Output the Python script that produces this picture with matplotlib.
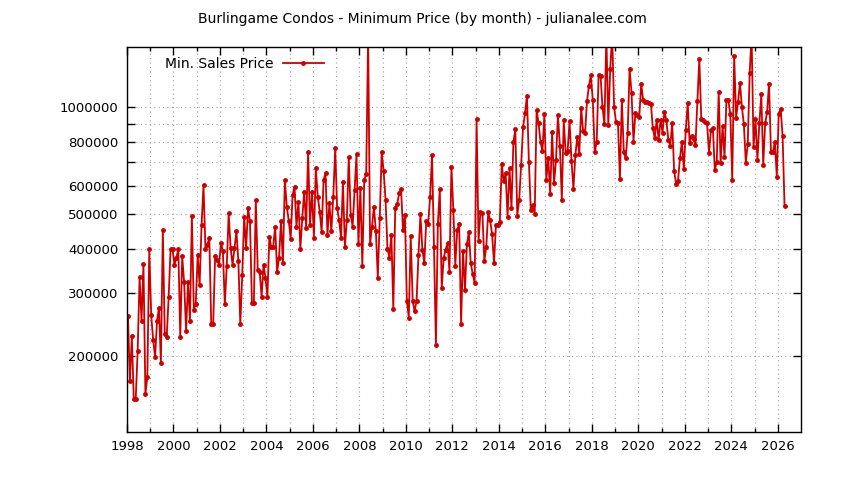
import numpy as np
import matplotlib
matplotlib.use("Agg")
import matplotlib.pyplot as plt
from matplotlib.ticker import FixedLocator, FixedFormatter, NullFormatter

# Monthly minimum sales price (USD), Jan 1998 .. Apr 2026
start_year = 1998
prices = [
    258000, 170000, 227000, 151000, 151000, 206000, 334000, 251000, 363000, 156000,
    174000, 400000, 260000, 222000, 198000, 250000, 273000, 191000, 451000, 231000,
    226000, 292000, 400000, 400000, 361000, 377000, 400000, 226000, 381000, 322000,
    235000, 322000, 251000, 495000, 269000, 280000, 385000, 316000, 467000, 605000,
    400000, 411000, 429000, 245000, 245000, 381000, 373000, 361000, 415000, 395000,
    279000, 357000, 504000, 402000, 361000, 402000, 448000, 369000, 245000, 338000,
    493000, 402000, 521000, 478000, 281000, 281000, 549000, 349000, 345000, 293000,
    361000, 331000, 293000, 433000, 404000, 406000, 462000, 345000, 377000, 478000,
    364000, 625000, 526000, 480000, 427000, 567000, 599000, 462000, 543000, 400000,
    488000, 580000, 459000, 750000, 467000, 580000, 430000, 674000, 561000, 509000,
    446000, 625000, 653000, 438000, 538000, 448000, 561000, 767000, 521000, 483000,
    430000, 616000, 406000, 481000, 727000, 499000, 462000, 586000, 738000, 412000,
    592000, 357000, 625000, 648000, 1600000, 412000, 462000, 526000, 448000, 331000,
    488000, 750000, 663000, 549000, 400000, 378000, 438000, 271000, 520000, 534000,
    573000, 590000, 452000, 499000, 285000, 256000, 434000, 285000, 267000, 285000,
    385000, 501000, 398000, 365000, 478000, 470000, 560000, 735000, 405000, 215000,
    469000, 590000, 310000, 377000, 398000, 415000, 345000, 681000, 515000, 359000,
    452000, 469000, 246000, 395000, 307000, 412000, 446000, 364000, 340000, 320000,
    927000, 420000, 509000, 505000, 369000, 406000, 507000, 481000, 440000, 365000,
    467000, 467000, 477000, 691000, 620000, 653000, 493000, 674000, 521000, 797000,
    869000, 496000, 549000, 689000, 882000, 962000, 1078000, 704000, 513000, 532000,
    501000, 983000, 902000, 801000, 754000, 956000, 625000, 722000, 570000, 851000,
    612000, 711000, 951000, 780000, 549000, 921000, 743000, 754000, 915000, 707000,
    590000, 735000, 827000, 738000, 998000, 858000, 845000, 1041000, 1150000, 1232000,
    1048000, 748000, 797000, 1232000, 1228000, 1004000, 896000, 1600000, 892000, 1287000,
    1600000, 1000000, 911000, 905000, 628000, 1053000, 750000, 719000, 849000, 1287000,
    1100000, 801000, 966000, 951000, 941000, 1168000, 1048000, 1037000, 1035000, 1030000,
    1026000, 873000, 818000, 925000, 810000, 925000, 849000, 972000, 921000, 810000,
    780000, 905000, 664000, 609000, 622000, 719000, 801000, 670000, 864000, 1030000,
    792000, 831000, 813000, 784000, 1044000, 1373000, 931000, 921000, 911000, 902000,
    743000, 864000, 873000, 667000, 704000, 1106000, 697000, 886000, 727000, 1048000,
    1048000, 958000, 625000, 1400000, 937000, 1037000, 1172000, 1000000, 898000, 699000,
    789000, 1250000, 1600000, 772000, 927000, 711000, 902000, 1090000, 689000, 902000,
    972000, 1168000, 748000, 750000, 801000, 639000, 958000, 993000, 831000, 528000,
]

x_major = list(range(1998, 2027, 2))
x_minor = list(range(1999, 2027, 2))
y_ticks = [200000, 300000, 400000, 500000, 600000, 700000, 800000, 900000, 1000000]
y_labels = ["200000", "300000", "400000", "500000", "600000", "", "800000", "", "1000000"]

title = "Burlingame Condos - Minimum Price (by month) - julianalee.com"
series_label = "Min. Sales Price"

month_idx = np.arange(len(prices))
dates = start_year + (month_idx + 0.5) / 12.0

plt.rcParams['font.family'] = ['DejaVu Sans']
fig = plt.figure(figsize=(8.44, 4.80), dpi=100)
ax = fig.add_axes([127/844, 1 - 432/480, (801 - 127)/844, (432 - 47)/480])

ax.set_yscale('log')
ax.set_xlim(1998, 2027)
ax.set_ylim(122000, 1480000)

red = '#cc0000'
ax.plot(dates, prices, color=red, lw=1.3, marker='o', ms=2.5,
        markerfacecolor=red, markeredgecolor=red, label=series_label, clip_on=True)

ax.xaxis.set_major_locator(FixedLocator(x_major))
ax.xaxis.set_minor_locator(FixedLocator(x_minor))
ax.set_xticklabels([str(v) for v in x_major])
ax.yaxis.set_major_locator(FixedLocator(y_ticks))
ax.yaxis.set_major_formatter(FixedFormatter(y_labels))
ax.yaxis.set_minor_locator(FixedLocator([]))
ax.yaxis.set_minor_formatter(NullFormatter())

ax.tick_params(axis='both', which='major', direction='in', length=6, width=1,
               top=True, right=True, labelsize=9.5, pad=6, colors='black')
ax.tick_params(axis='x', which='minor', direction='in', length=3, width=1,
               top=True, bottom=True)

grid_kw = dict(color='#a0a0a0', lw=0.8, linestyle=(0, (1, 3)))
for xv in sorted(x_major + x_minor):
    ax.axvline(xv, zorder=0, **grid_kw)
for yv in y_ticks:
    ax.axhline(yv, zorder=0, **grid_kw)

for s in ax.spines.values():
    s.set_linewidth(1.0)
    s.set_color('black')

fig.text(0.5, 1 - 19/480, title, ha='center', va='center', fontsize=10)

leg = ax.legend(loc='upper left', bbox_to_anchor=(0.042, 1.0), frameon=False,
                markerfirst=False, handlelength=3.0, fontsize=10,
                borderaxespad=0.3, handletextpad=0.65)

fig.savefig('out.png', dpi=100)
